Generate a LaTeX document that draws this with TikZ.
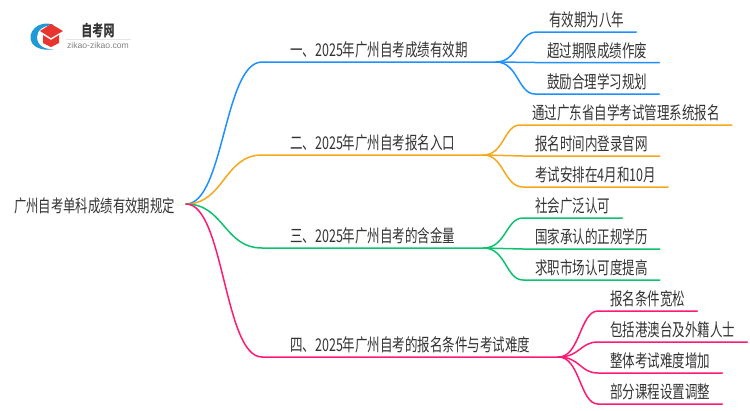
\documentclass[tikz,border=0pt]{standalone}
\usepackage{fontspec}
\setmainfont[FakeStretch=0.71]{Noto Sans CJK SC}
\newfontfamily\latinfont{Liberation Sans}
\definecolor{lineblue}{HTML}{1E90FF}
\definecolor{lineorange}{HTML}{F5A81C}
\definecolor{linegreen}{HTML}{0CC26F}
\definecolor{linepink}{HTML}{FF1A75}
\definecolor{labeltext}{HTML}{333333}
\definecolor{logoblue}{HTML}{1E9AD6}
\definecolor{logored}{HTML}{E8352E}
\begin{document}
\begin{tikzpicture}[
    x=1pt, y=-1pt,
    root/.style={anchor=east, inner xsep=11pt, inner ysep=0pt, text=labeltext, text height=17pt, text depth=0pt, font=\fontsize{17.4}{20}\selectfont},
    branch/.style={anchor=south west, inner xsep=28pt, inner ysep=5pt, text=labeltext, text depth=0pt, font=\fontsize{17.6}{20}\selectfont},
    leaf/.style={anchor=south west, inner xsep=12pt, inner ysep=5pt, text=labeltext, text depth=0pt, font=\fontsize{17.6}{20}\selectfont},
    link/.style={line width=1.5pt, line cap=round}
]
\useasboundingbox (0,0) rectangle (750,410);

% logo
\fill[logoblue] (54,25) .. controls (38,19) and (26,33) .. (32,43) .. controls (36,49) and (46,51) .. (54,49) .. controls (44,50) and (37,45) .. (37,37) .. controls (37,30) and (44,25) .. (54,25) -- cycle;
\fill[logored] (51,24) -- (63,31) -- (51,38) -- (40,31) -- cycle;
\fill[logored] (43,35) -- (51,40) -- (59,35) -- (59,43) -- (51,47) -- (43,43) -- cycle;
\node[text=labeltext, inner sep=0pt, font=\fontsize{15.5}{18}\bfseries\selectfont] (logotitle) at (98,30.5) {自考网};
\node[text=gray, inner sep=0pt, font=\latinfont\fontsize{8.6}{10}\selectfont] (logourl) at (98,45) {zikao-zikao.com};
\draw[black!10, line width=.6pt] (66,39) -- (131,39);

% nodes
\node[root] (guize) at (186,204) {广州自考单科成绩有效期规定};
\node[branch] (youxiao) at (262,62) {一、2025年广州自考成绩有效期};
\node[branch] (rukou) at (262,155) {二、2025年广州自考报名入口};
\node[branch] (hanjin) at (262,248) {三、2025年广州自考的含金量};
\node[branch] (tiaojian) at (262,357) {四、2025年广州自考的报名条件与考试难度};

\node[leaf] (banian) at (537,32) {有效期为八年};
\node[leaf] (zuofei) at (535,62.5) {超过期限成绩作废};
\node[leaf] (guihua) at (535,94) {鼓励合理学习规划};

\node[leaf] (xitong) at (520,125) {通过广东省自学考试管理系统报名};
\node[leaf] (guanwang) at (523,156) {报名时间内登录官网};
\node[leaf] (anpai) at (523,187) {考试安排在4月和10月};

\node[leaf] (renke) at (523,218) {社会广泛认可};
\node[leaf] (xueli) at (523,249) {国家承认的正规学历};
\node[leaf] (qiuzhi) at (523,280) {求职市场认可度提高};

\node[leaf] (kuansong) at (598,311) {报名条件宽松};
\node[leaf] (gangao) at (598,342) {包括港澳台及外籍人士};
\node[leaf] (nandu) at (598,373) {整体考试难度增加};
\node[leaf] (kecheng) at (598,404) {部分课程设置调整};

% root to branches
\draw[link, lineblue] (guize.east) .. controls (224,204) and (224,62) .. (youxiao.south west) -- (youxiao.south east);
\draw[link, lineorange] (guize.east) .. controls (224,204) and (224,155) .. (rukou.south west) -- (rukou.south east);
\draw[link, linegreen] (guize.east) .. controls (224,204) and (224,248) .. (hanjin.south west) -- (hanjin.south east);
\draw[link, linepink] (guize.east) .. controls (224,204) and (224,357) .. (tiaojian.south west) -- (tiaojian.south east);

% branches to leaves
\draw[link, lineblue] (youxiao.south east) .. controls (518,62) and (518,32) .. (banian.south west) -- (banian.south east);
\draw[link, lineblue] (youxiao.south east) -- (zuofei.south west) -- (zuofei.south east);
\draw[link, lineblue] (youxiao.south east) .. controls (518,62) and (518,94) .. (guihua.south west) -- (guihua.south east);

\draw[link, lineorange] (rukou.south east) .. controls (504,155) and (504,125) .. (xitong.south west) -- (xitong.south east);
\draw[link, lineorange] (rukou.south east) -- (guanwang.south west) -- (guanwang.south east);
\draw[link, lineorange] (rukou.south east) .. controls (504,155) and (504,187) .. (anpai.south west) -- (anpai.south east);

\draw[link, linegreen] (hanjin.south east) .. controls (506,248) and (506,218) .. (renke.south west) -- (renke.south east);
\draw[link, linegreen] (hanjin.south east) -- (xueli.south west) -- (xueli.south east);
\draw[link, linegreen] (hanjin.south east) .. controls (506,248) and (506,280) .. (qiuzhi.south west) -- (qiuzhi.south east);

\draw[link, linepink] (tiaojian.south east) .. controls (580,357) and (580,311) .. (kuansong.south west) -- (kuansong.south east);
\draw[link, linepink] (tiaojian.south east) .. controls (580,357) and (580,342) .. (gangao.south west) -- (gangao.south east);
\draw[link, linepink] (tiaojian.south east) .. controls (580,357) and (580,373) .. (nandu.south west) -- (nandu.south east);
\draw[link, linepink] (tiaojian.south east) .. controls (580,357) and (580,404) .. (kecheng.south west) -- (kecheng.south east);

\end{tikzpicture}
\end{document}
